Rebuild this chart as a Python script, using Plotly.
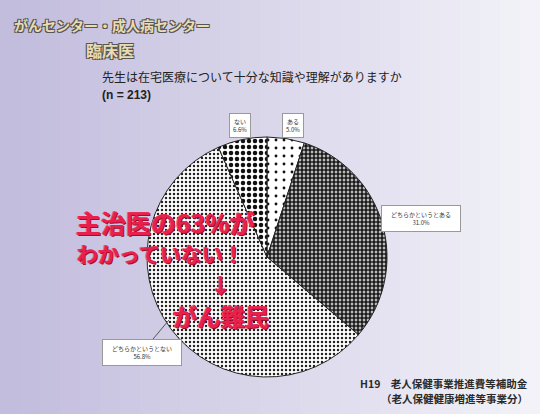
import plotly.graph_objects as go

# Survey answers and their shares (%)
labels = ["ある", "どちらかというとある", "どちらかというとない", "ない"]
shares = [5.0, 31.0, 56.8, 6.6]

# Fill patterns for each slice
pat_shape = [".", ".", ".", "."]
pat_fg = ["#111111", "#1a1a1a", "#222222", "#111111"]
pat_bg = ["#ffffff", "#ffffff", "#ffffff", "#ffffff"]
pat_size = [8, 4, 4, 6]
pat_solid = [0.1, 0.75, 0.3, 0.45]

W, H = 540, 414


def px(x):
    return x / W


def py(y):
    return 1 - y / H


fig = go.Figure()
fig.add_trace(go.Pie(
    labels=labels,
    values=shares,
    sort=False,
    direction="clockwise",
    rotation=0,
    textinfo="none",
    hoverinfo="label+value",
    showlegend=False,
    marker=dict(
        colors=pat_bg,
        line=dict(color="#222222", width=1),
        pattern=dict(shape=pat_shape, fgcolor=pat_fg, bgcolor=pat_bg,
                     size=pat_size, solidity=pat_solid, fillmode="replace"),
    ),
    domain=dict(x=[px(146), px(388)], y=[py(377), py(137)]),
))

# Soft lavender backdrop fading towards the right
shapes = []
n_strips = 27
c0 = (194, 188, 221)
c1 = (242, 242, 248)
for i in range(n_strips):
    t = i / (n_strips - 1)
    c = tuple(int(round(a + (b - a) * t)) for a, b in zip(c0, c1))
    shapes.append(dict(type="rect", xref="paper", yref="paper", layer="below",
                       x0=i / n_strips, x1=(i + 1) / n_strips + 0.002, y0=0, y1=1,
                       fillcolor="rgb(%d,%d,%d)" % c, line=dict(width=0)))
# Leader line for the largest slice
shapes.append(dict(type="line", xref="paper", yref="paper",
                   x0=px(153), y0=py(339), x1=px(169), y1=py(320),
                   line=dict(color="#555555", width=1)))

ann = []
outline = "-1px -1px 0 #555, 1px -1px 0 #555, -1px 1px 0 #555, 1px 1px 0 #555"
jp = "Noto Sans CJK JP"
ann.append(dict(text="がんセンター・成人病センター", x=px(12), y=py(25),
                xanchor="left", yanchor="middle", showarrow=False,
                font=dict(family=jp, size=14, color="#e8dcb4", weight="bold",
                          shadow=outline)))
ann.append(dict(text="臨床医", x=px(84), y=py(50), xanchor="left", yanchor="middle",
                showarrow=False,
                font=dict(family=jp, size=16, color="#e8dcb4", weight="bold",
                          shadow=outline)))
ann.append(dict(text="先生は在宅医療について十分な知識や理解がありますか",
                x=px(100), y=py(77), xanchor="left", yanchor="middle", showarrow=False,
                font=dict(family=jp, size=12, color="#222222")))
ann.append(dict(text="<b>(n = 213)</b>", x=px(100), y=py(95), xanchor="left",
                yanchor="middle", showarrow=False,
                font=dict(family="Liberation Sans", size=12, color="#222222")))

# Slice labels in small boxes
box_pos = {
    "ある": (293, 125),
    "どちらかというとある": (421, 218),
    "どちらかというとない": (142, 352),
    "ない": (240, 125),
}
for lab, val in zip(labels, shares):
    x, y = box_pos[lab]
    ann.append(dict(text=f"{lab}<br>{val:.1f}%", x=px(x), y=py(y),
                    xanchor="center", yanchor="middle", showarrow=False,
                    font=dict(family=jp, size=6, color="#333333"),
                    bgcolor="#ffffff", bordercolor="#999999", borderwidth=1,
                    borderpad=3 if len(lab) < 4 else 4,
                    width=None if len(lab) < 4 else 70))

red = "#e8204c"
red_edge = "1px 1px 0 #9a1030, -1px 0 0 #f06080"
ann.append(dict(text="主治医の63%が", x=px(74), y=py(222), xanchor="left",
                yanchor="middle", showarrow=False,
                font=dict(family=jp, size=25, color=red, weight="bold", shadow=red_edge)))
ann.append(dict(text="わかっていない！", x=px(75), y=py(253), xanchor="left",
                yanchor="middle", showarrow=False,
                font=dict(family=jp, size=21, color=red, weight="bold", shadow=red_edge)))
ann.append(dict(text="↓", x=px(220), y=py(284), xanchor="center",
                yanchor="middle", showarrow=False,
                font=dict(family=jp, size=21, color=red, weight="bold",
                          shadow=red_edge)))
ann.append(dict(text="がん難民", x=px(221), y=py(315), xanchor="center",
                yanchor="middle", showarrow=False,
                font=dict(family=jp, size=24, color=red, weight="bold", shadow=red_edge)))

ann.append(dict(text="H19　老人保健事業推進費等補助金",
                x=px(530), y=py(383), xanchor="right", yanchor="middle",
                showarrow=False,
                font=dict(family=jp, size=10.5, color="#2a2a2a", weight="bold")))
ann.append(dict(text="（老人保健健康増進等事業分）",
                x=px(530), y=py(398), xanchor="right", yanchor="middle",
                showarrow=False,
                font=dict(family=jp, size=10.5, color="#2a2a2a", weight="bold")))

fig.update_layout(
    width=W, height=H,
    margin=dict(l=0, r=0, t=0, b=0),
    paper_bgcolor="#dcd9ec",
    plot_bgcolor="#dcd9ec",
    shapes=shapes,
    annotations=ann,
)

fig.write_html("out.html")
